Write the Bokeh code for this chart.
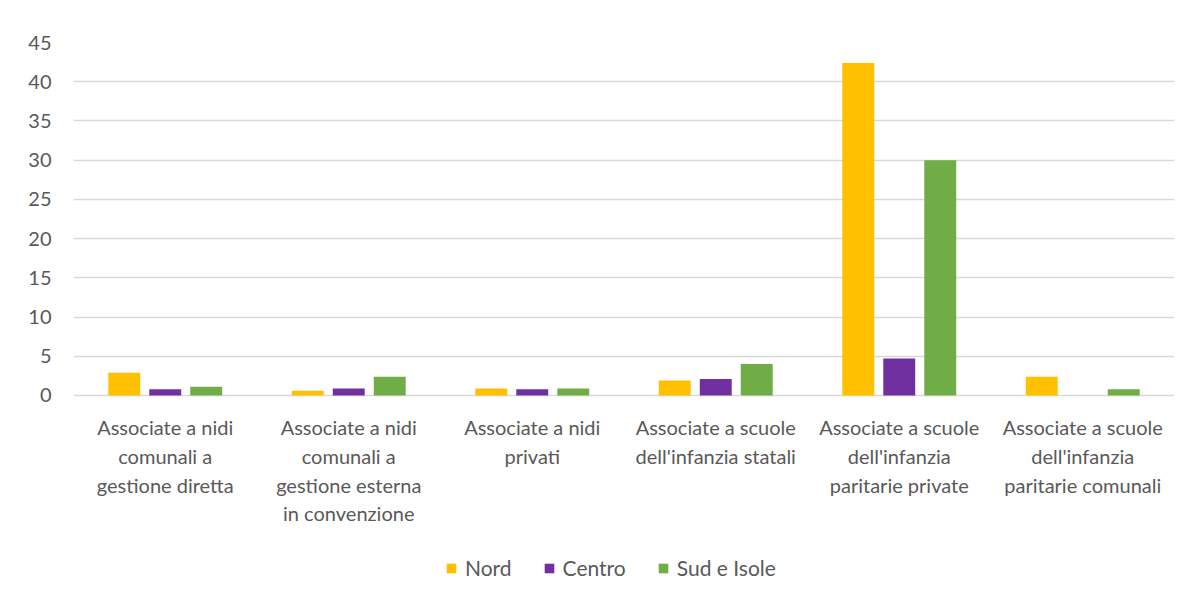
from bokeh.plotting import figure
from bokeh.models import FactorRange, Range1d, FixedTicker, Legend, LegendItem, ColumnDataSource
from bokeh.core.properties import value
from bokeh.transform import dodge
from bokeh.embed import file_html
from bokeh.resources import INLINE

categories = [
    "Associate a nidi\ncomunali a\ngestione diretta",
    "Associate a nidi\ncomunali a\ngestione esterna\nin convenzione",
    "Associate a nidi\nprivati",
    "Associate a scuole\ndell'infanzia statali",
    "Associate a scuole\ndell'infanzia\nparitarie private",
    "Associate a scuole\ndell'infanzia\nparitarie comunali",
]
nord = [2.9, 0.6, 0.9, 1.9, 42.4, 2.4]
centro = [0.8, 0.9, 0.8, 2.1, 4.7, 0.0]
sud_isole = [1.1, 2.4, 0.9, 4.0, 30.0, 0.8]
series_names = ["Nord", "Centro", "Sud e Isole"]
colors = ["#FFC000", "#7030A0", "#70AD47"]
y_ticks = [0, 5, 10, 15, 20, 25, 30, 35, 40, 45]

src = ColumnDataSource(dict(cat=categories, nord=nord, centro=centro, sud=sud_isole))

FONT = "Lato"
TXT = "#595959"
p = figure(
    frame_width=1101, frame_height=553,
    x_range=FactorRange(*categories, range_padding=0),
    y_range=Range1d(-25.5, 45),
    x_axis_location=None,
    output_backend="svg", toolbar_location=None,
    min_border_left=73, min_border_right=9, min_border_top=42, min_border_bottom=0,
)
p.outline_line_color = None
p.background_fill_color = "white"
p.border_fill_color = "white"

off = 0.2234
bw = 0.174
r1 = p.vbar(x=dodge("cat", -off, range=p.x_range), top="nord", width=bw, source=src,
            fill_color=colors[0], line_color=None)
r2 = p.vbar(x=dodge("cat", 0, range=p.x_range), top="centro", width=bw, source=src,
            fill_color=colors[1], line_color=None)
r3 = p.vbar(x=dodge("cat", off, range=p.x_range), top="sud", width=bw, source=src,
            fill_color=colors[2], line_color=None)

# category labels below the baseline
p.text(x="cat", y=-2.5, text="cat", source=src,
       text_font=value(FONT), text_font_size="20px", text_color=TXT,
       text_align="center", text_baseline="top", text_line_height=1.2)

p.xgrid.grid_line_color = None
p.ygrid.grid_line_color = "#D9D9D9"
p.ygrid.grid_line_width = 1.5
p.yaxis.ticker = FixedTicker(ticks=y_ticks)

p.yaxis.axis_line_color = None
p.yaxis.major_tick_line_color = None
p.yaxis.minor_tick_line_color = None
p.yaxis.major_label_text_font = FONT
p.yaxis.major_label_text_font_size = "20px"
p.yaxis.major_label_text_color = TXT
p.yaxis.major_label_standoff = 16

legend = Legend(
    items=[LegendItem(label=series_names[0], renderers=[r1]),
           LegendItem(label=series_names[1], renderers=[r2]),
           LegendItem(label=series_names[2], renderers=[r3])],
    orientation="horizontal", location=(372, 15),
    label_text_font=FONT, label_text_font_size="21px", label_text_color=TXT,
    glyph_width=12, glyph_height=12, label_standoff=8, spacing=31,
    border_line_color=None, background_fill_alpha=0, margin=0, padding=2,
)
p.add_layout(legend)

open("out.html", "w").write(file_html(p, INLINE))
